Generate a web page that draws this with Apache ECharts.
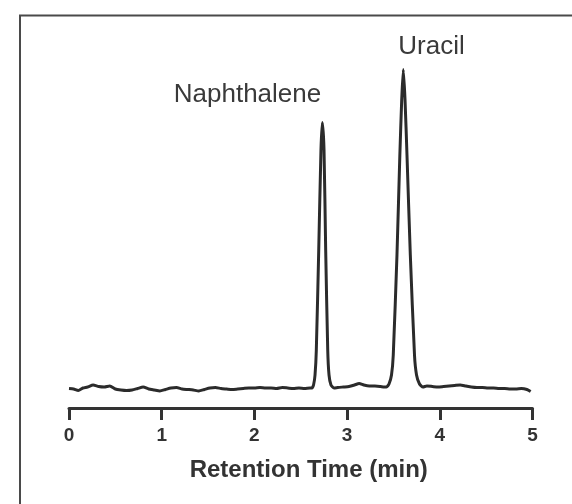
<!DOCTYPE html>
<html>
<head>
<meta charset="utf-8">
<script src="https://cdn.jsdelivr.net/npm/echarts@6/dist/echarts.min.js"></script>
<style>
  html, body { margin: 0; padding: 0; background: #fff; }
  #chart { width: 572px; height: 504px; }
</style>
</head>
<body>
<div id="chart"></div>
<script>
// retention time (min) / detector signal
const baselineStart = [
  [0.00, 19.5], [0.05, 19], [0.10, 17.5], [0.15, 20], [0.20, 21], [0.26, 23],
  [0.32, 21.5], [0.38, 21], [0.44, 22], [0.50, 19], [0.56, 18], [0.62, 17.5],
  [0.68, 18], [0.74, 19.5], [0.80, 21], [0.86, 19], [0.92, 18], [0.98, 17],
  [1.04, 18.5], [1.10, 20], [1.16, 20.5], [1.22, 19], [1.28, 18.5], [1.34, 18],
  [1.40, 17], [1.46, 18.5], [1.52, 20], [1.58, 20.5], [1.64, 19.5], [1.70, 19],
  [1.76, 18.5], [1.82, 19], [1.88, 19.5], [1.94, 20], [2.00, 20], [2.06, 20.5],
  [2.12, 20], [2.18, 20], [2.24, 19.5], [2.30, 20.5], [2.36, 20], [2.42, 19.5],
  [2.48, 20], [2.54, 19.5], [2.60, 20]
];
const naphthalenePeak = [
  [2.621, 20], [2.638, 23], [2.654, 33], [2.668, 58], [2.694, 158], [2.718, 258],
  [2.733, 285.5], [2.751, 258], [2.769, 158], [2.791, 58], [2.805, 33],
  [2.826, 23], [2.859, 20]
];
const betweenPeaks = [
  [2.90, 20.5], [2.96, 21], [3.02, 21.5], [3.08, 23], [3.13, 24.5], [3.18, 23],
  [3.24, 22], [3.30, 22], [3.36, 21.5], [3.40, 21]
];
const uracilPeak = [
  [3.425, 21], [3.452, 24], [3.479, 33], [3.498, 53], [3.538, 153], [3.569, 253],
  [3.589, 308], [3.606, 338.5], [3.625, 308], [3.646, 253], [3.682, 153],
  [3.727, 53], [3.749, 33], [3.781, 24], [3.819, 21]
];
const baselineEnd = [
  [3.86, 22], [3.92, 21.5], [3.98, 21], [4.04, 21.5], [4.10, 22], [4.16, 22.5],
  [4.22, 23], [4.28, 22], [4.34, 21], [4.40, 20.5], [4.46, 20.5], [4.52, 20],
  [4.58, 20], [4.64, 19.5], [4.70, 19.5], [4.76, 19], [4.82, 19], [4.88, 19.5],
  [4.94, 18.5], [4.98, 16.5]
];
const xTicks = [0, 1, 2, 3, 4, 5];

const trace = [].concat(baselineStart, naphthalenePeak, betweenPeaks, uracilPeak, baselineEnd);

const chart = echarts.init(document.getElementById('chart'));

chart.setOption({
  backgroundColor: '#fff',
  animation: false,
  grid: { left: 69, right: 39.5, top: 40, bottom: 96 },
  xAxis: {
    type: 'value',
    min: xTicks[0],
    max: xTicks[xTicks.length - 1],
    interval: 1,
    name: 'Retention Time (min)',
    nameLocation: 'middle',
    nameGap: 50,
    nameTextStyle: {
      fontFamily: 'Liberation Sans, Arial, sans-serif',
      fontSize: 24, fontWeight: 'bold', color: '#333',
      padding: [0, 0, 0, 16]
    },
    axisLine: { lineStyle: { color: '#333', width: 3 } },
    axisTick: { length: 12, lineStyle: { color: '#333', width: 3 } },
    axisLabel: {
      margin: 18,
      fontFamily: 'Liberation Sans, Arial, sans-serif',
      fontSize: 19, fontWeight: 'bold', color: '#333'
    },
    splitLine: { show: false }
  },
  yAxis: { type: 'value', min: 0, max: 368, show: false },
  series: [{
    type: 'line',
    data: trace,
    showSymbol: false,
    smooth: 0.2,
    lineStyle: { color: '#2b2b2b', width: 3 }
  }],
  graphic: [
    {
      type: 'rect',
      shape: { x: 20, y: 15.5, width: 700, height: 700 },
      style: { fill: 'none', stroke: '#4a4a4a', lineWidth: 2 }
    },
    {
      type: 'text', x: 247.5, y: 95,
      style: {
        text: 'Naphthalene', fill: '#3a3a3a', fontSize: 26,
        fontFamily: 'Liberation Sans, Arial, sans-serif',
        textAlign: 'center', textVerticalAlign: 'middle'
      }
    },
    {
      type: 'text', x: 431.5, y: 47,
      style: {
        text: 'Uracil', fill: '#3a3a3a', fontSize: 26,
        fontFamily: 'Liberation Sans, Arial, sans-serif',
        textAlign: 'center', textVerticalAlign: 'middle'
      }
    }
  ]
});
</script>
</body>
</html>
